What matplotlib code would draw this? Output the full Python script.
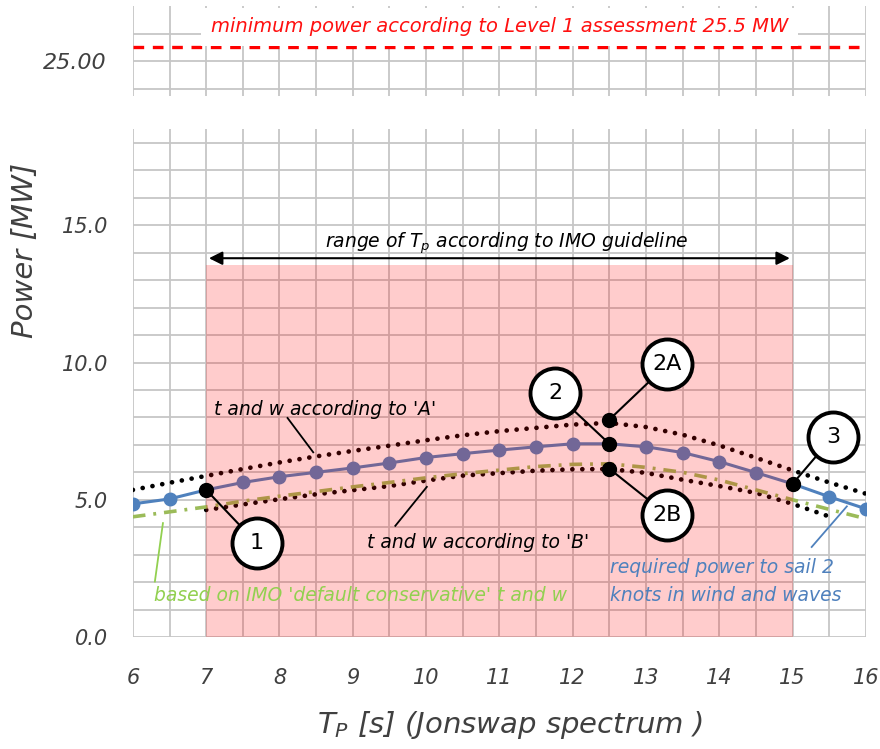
import numpy as np
import matplotlib
matplotlib.use('Agg')
from matplotlib import pyplot as plt
from matplotlib.patches import Rectangle

plt.rcParams['font.family'] = ['DejaVu Sans']

# wave period Tp [s]
tp = [6, 6.5, 7, 7.5, 8, 8.5, 9, 9.5, 10, 10.5, 11, 11.5, 12, 12.5, 13, 13.5, 14, 14.5, 15, 15.5, 16]
# required power to sail 2 knots [MW]
power_req = [4.85, 5.03, 5.36, 5.63, 5.84, 6.00, 6.16, 6.34, 6.54, 6.68, 6.81, 6.93, 7.04, 7.04,
             6.93, 6.72, 6.39, 5.99, 5.58, 5.11, 4.67]
# t and w according to 'A'
power_a = [5.36, 5.62, 5.87, 6.12, 6.36, 6.58, 6.78, 6.97, 7.17, 7.35, 7.50, 7.62, 7.74, 7.80,
           7.65, 7.37, 6.98, 6.53, 6.07, 5.63, 5.22]
# t and w according to 'B' (7 - 15.5 s)
tp_b = [7, 7.5, 8, 8.5, 9, 9.5, 10, 10.5, 11, 11.5, 12, 12.5, 13, 13.5, 14, 14.5, 15, 15.5]
power_b = [4.63, 4.83, 5.02, 5.20, 5.35, 5.50, 5.70, 5.88, 5.97, 6.06, 6.11, 6.12, 5.98, 5.73,
           5.50, 5.25, 4.85, 4.39]
# IMO default conservative t and w
power_imo = [4.38, 4.56, 4.74, 4.95, 5.13, 5.30, 5.47, 5.63, 5.80, 5.95, 6.08, 6.21, 6.29, 6.31,
             6.18, 6.00, 5.72, 5.36, 5.00, 4.65, 4.31]

level1_power = 25.5
tp_range = [7, 15]

# callouts: label, point, circle position
call_labels = ['1', '2', '2A', '2B', '3']
call_px = [7, 12.5, 12.5, 12.5, 15]
call_py = [5.36, 7.04, 7.92, 6.13, 5.58]
call_cx = [7.69, 11.76, 13.29, 13.29, 15.55]
call_cy = [3.42, 8.89, 9.93, 4.45, 7.30]

grey = '#c6c6c6'
tick_col = '#404040'
blue = '#4f81bd'
green_line = '#9bbb59'
green_txt = '#92d050'

fig = plt.figure(figsize=(8.8, 7.49), dpi=100)
ax_top = fig.add_axes([0.151, 0.872, 0.833, 0.120])
ax = fig.add_axes([0.151, 0.1495, 0.833, 0.678])

for a in (ax_top, ax):
    for s in a.spines.values():
        s.set_visible(False)
    a.set_xlim(6, 16)
    a.set_xticks(np.arange(6, 16.01, 0.5), minor=True)
    a.grid(True, which='both', color=grey, lw=1.3)
    a.set_axisbelow(True)
    a.tick_params(which='both', length=0, labelcolor=tick_col)

# top panel
ax_top.set_ylim(23.75, 27)
ax_top.set_xticks(np.arange(6, 16.01, 1))
ax_top.set_xticklabels([])
ax_top.set_yticks([25])
ax_top.set_yticklabels(['25.00'], fontsize=16, style='italic')
ax_top.set_yticks([24, 26], minor=True)
ax_top.tick_params(axis='y', pad=19)
ax_top.axhline(level1_power, color='#ff0000', lw=2.4, ls=(0, (3.2, 2.6)))
ax_top.text(11, 26.25, 'minimum power according to Level 1 assessment 25.5 MW', color='#ff1010',
            fontsize=14, style='italic', ha='center', va='center',
            bbox=dict(facecolor='white', edgecolor='none', pad=7))

# bottom panel
ax.set_ylim(0, 18.5)
ax.set_xticks(np.arange(6, 16.01, 1))
ax.set_xticklabels([str(v) for v in range(6, 17)], fontsize=15, style='italic')
ax.set_yticks([0, 5, 10, 15])
ax.set_yticklabels(['0.0', '5.0', '10.0', '15.0'], fontsize=15, style='italic')
ax.set_yticks(np.arange(0, 18.6, 1), minor=True)
ax.tick_params(axis='x', pad=22)
ax.tick_params(axis='y', pad=18)

dots = (0, (0.01, 2.1))
ax.plot(tp, power_req, color=blue, lw=2.2, marker='o', ms=9, zorder=2)
ax.plot(tp, power_a, color='black', lw=3.4, ls=dots, dash_capstyle='round', zorder=2)
ax.plot(tp_b, power_b, color='black', lw=3.4, ls=dots, dash_capstyle='round', zorder=2)
ax.plot(tp, power_imo, color=green_line, lw=2.6, ls=(0, (3.5, 2.2, 0.8, 2.2)), zorder=2)

# shaded IMO range
ax.add_patch(Rectangle((tp_range[0], 0), tp_range[1] - tp_range[0], 13.55,
                       facecolor='red', alpha=0.2, edgecolor='none', zorder=3))
ax.annotate('', xy=(tp_range[0], 13.8), xytext=(tp_range[1], 13.8),
            arrowprops=dict(arrowstyle='<|-|>', color='black', lw=1.5, mutation_scale=20), zorder=4)
ax.text(11.1, 14.35, 'range of $T_p$ according to IMO guideline', fontsize=13.5, style='italic',
        ha='center', va='center', zorder=4)

# line labels with leaders
ax.plot([8.11, 8.46], [7.98, 6.73], color='black', lw=1.3, zorder=4)
ax.text(8.62, 8.28, "t and w according to 'A'", fontsize=13.5, style='italic', ha='center', va='center', zorder=4)
ax.plot([10.01, 9.58], [5.47, 4.05], color='black', lw=1.3, zorder=4)
ax.text(10.71, 3.43, "t and w according to 'B'", fontsize=13.5, style='italic', ha='center', va='center', zorder=4)
ax.plot([6.41, 6.30], [4.15, 2.02], color=green_txt, lw=1.3, zorder=4)
ax.text(9.1, 1.5, "based on IMO 'default conservative' t and w", color=green_txt, fontsize=13.5,
        style='italic', ha='center', va='center', zorder=4)
ax.plot([15.74, 15.26], [4.76, 3.28], color=blue, lw=1.3, zorder=4)
ax.text(12.51, 2.03, 'required power to sail 2\nknots in wind and waves', color=blue, fontsize=13.5,
        style='italic', ha='left', va='center', linespacing=1.6, zorder=4)

# callouts
for lab, px, py, cx, cy in zip(call_labels, call_px, call_py, call_cx, call_cy):
    ax.plot([px, cx], [py, cy], color='black', lw=1.5, zorder=5)
    ax.plot(px, py, 'o', color='black', ms=10, zorder=6)
    ax.plot(cx, cy, 'o', ms=36, mfc='white', mec='black', mew=2.8, zorder=7)
    ax.text(cx, cy, lab, fontsize=16, ha='center', va='center', zorder=8)

fig.text(25 / 880, 1 - 250 / 749, 'Power [MW]', rotation=90, fontsize=21, style='italic',
         color=tick_col, ha='center', va='center')
fig.text(510 / 880, 1 - 725 / 749, '$T_P$ [s] (Jonswap spectrum )', fontsize=21, style='italic',
         color=tick_col, ha='center', va='center')

fig.savefig('out.png', dpi=100)
